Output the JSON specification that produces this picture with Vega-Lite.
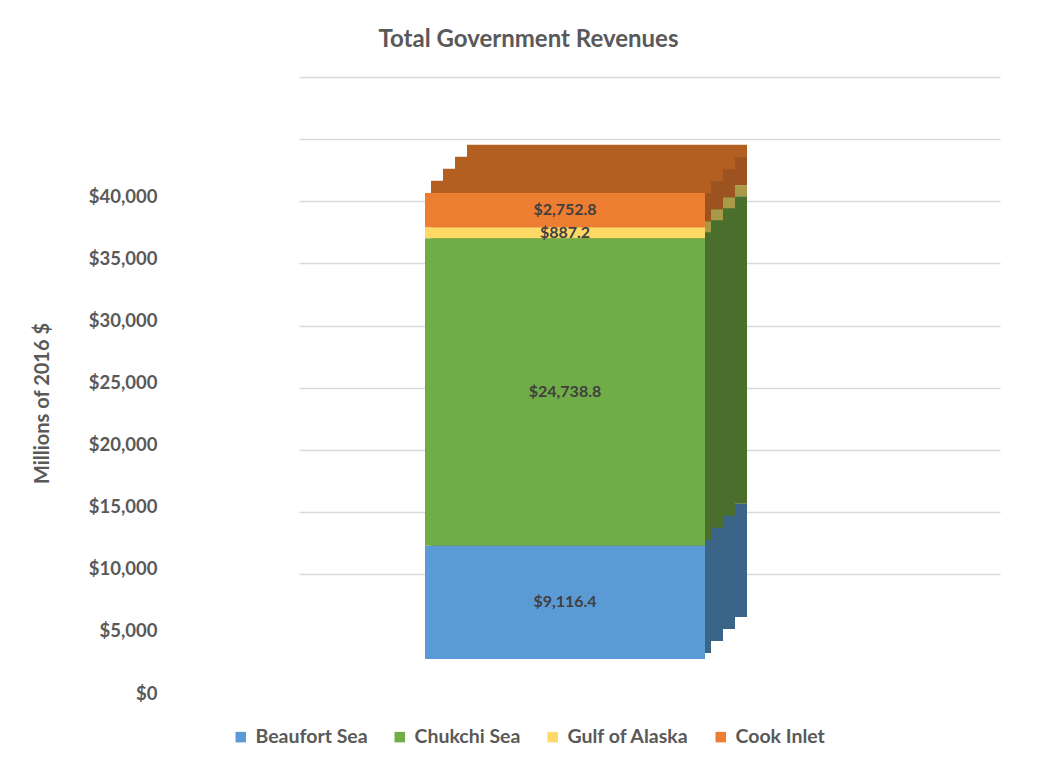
{
  "$schema": "https://vega.github.io/schema/vega-lite/v6.json",
  "width": 701,
  "height": 497,
  "autosize": {"type": "none"},
  "padding": {"left": 299, "top": 77, "right": 39, "bottom": 190},
  "background": "white",
  "config": {"view": {"stroke": null}},
  "title": {
    "text": "Total Government Revenues",
    "font": "Lato",
    "fontSize": 24,
    "fontWeight": "bold",
    "color": "#595959",
    "anchor": "middle",
    "dx": -121,
    "dy": 25,
    "offset": 31,
    "baseline": "alphabetic"
  },
  "data": {
    "values": [
      {"category": "Total", "series": "Beaufort Sea", "order": 1, "value": 9116.4},
      {"category": "Total", "series": "Chukchi Sea", "order": 2, "value": 24738.8},
      {"category": "Total", "series": "Gulf of Alaska", "order": 3, "value": 887.2},
      {"category": "Total", "series": "Cook Inlet", "order": 4, "value": 2752.8}
    ]
  },
  "transform": [
    {"stack": "value", "groupby": ["category"], "sort": [{"field": "order", "order": "ascending"}], "as": ["v0", "v1"]}
  ],
  "encoding": {
    "x": {"field": "category", "type": "nominal", "axis": null, "scale": {"paddingInner": 0, "paddingOuter": 0}}
  },
  "layer": [
    {
      "mark": {"type": "bar", "width": 280, "xOffset": -42.5, "yOffset": 43, "y2Offset": 43, "opacity": 1},
      "encoding": {
        "y": {
          "field": "v0",
          "type": "quantitative",
          "title": "Millions of 2016 $",
          "scale": {"domain": [0, 40000], "nice": false},
          "axis": {
            "values": [0, 5000, 10000, 15000, 20000, 25000, 30000, 35000, 40000],
            "format": "$,.0f",
            "labelFont": "Lato",
            "labelFontSize": 18.5,
            "labelFontWeight": "bold",
            "labelColor": "#595959",
            "labelOffset": 119,
            "labelPadding": 2,
            "offset": 140,
            "ticks": false,
            "domain": false,
            "gridColor": "#D9D9D9",
            "gridWidth": 1.5,
            "titleFont": "Lato",
            "titleFontSize": 20,
            "titleFontWeight": "bold",
            "titleColor": "#595959",
            "titleX": -117,
            "titleY": 326,
            "titleBaseline": "middle"
          }
        },
        "y2": {"field": "v1"},
        "color": {
          "field": "series",
          "type": "nominal",
          "scale": {
            "domain": ["Beaufort Sea", "Chukchi Sea", "Gulf of Alaska", "Cook Inlet"],
            "range": ["#3B6489", "#4A6F2C", "#A99A48", "#9C531F"]
          },
          "legend": null
        }
      }
    },
    {
      "mark": {"type": "bar", "width": 280, "xOffset": -54.5, "yOffset": 55, "y2Offset": 55, "opacity": 1},
      "encoding": {
        "y": {"field": "v0", "type": "quantitative", "title": "Millions of 2016 $"},
        "y2": {"field": "v1"},
        "color": {
          "field": "series",
          "type": "nominal",
          "scale": {
            "domain": ["Beaufort Sea", "Chukchi Sea", "Gulf of Alaska", "Cook Inlet"],
            "range": ["#3B6489", "#4A6F2C", "#A99A48", "#9C531F"]
          },
          "legend": null
        }
      }
    },
    {
      "mark": {"type": "bar", "width": 280, "xOffset": -66.5, "yOffset": 67, "y2Offset": 67, "opacity": 1},
      "encoding": {
        "y": {"field": "v0", "type": "quantitative", "title": "Millions of 2016 $"},
        "y2": {"field": "v1"},
        "color": {
          "field": "series",
          "type": "nominal",
          "scale": {
            "domain": ["Beaufort Sea", "Chukchi Sea", "Gulf of Alaska", "Cook Inlet"],
            "range": ["#3B6489", "#4A6F2C", "#A99A48", "#9C531F"]
          },
          "legend": null
        }
      }
    },
    {
      "mark": {"type": "bar", "width": 280, "xOffset": -78.5, "yOffset": 79, "y2Offset": 79, "opacity": 1},
      "encoding": {
        "y": {"field": "v0", "type": "quantitative", "title": "Millions of 2016 $"},
        "y2": {"field": "v1"},
        "color": {
          "field": "series",
          "type": "nominal",
          "scale": {
            "domain": ["Beaufort Sea", "Chukchi Sea", "Gulf of Alaska", "Cook Inlet"],
            "range": ["#3B6489", "#4A6F2C", "#A99A48", "#9C531F"]
          },
          "legend": null
        }
      }
    },
    {
      "transform": [{"filter": "datum.series == 'Cook Inlet'"}],
      "mark": {"type": "tick", "color": "#B45F22", "thickness": 12.5, "size": 280, "xOffset": -42.5, "yOffset": 43, "opacity": 1},
      "encoding": {"y": {"field": "v1", "type": "quantitative", "title": "Millions of 2016 $"}}
    },
    {
      "transform": [{"filter": "datum.series == 'Cook Inlet'"}],
      "mark": {"type": "tick", "color": "#B45F22", "thickness": 12.5, "size": 280, "xOffset": -54.5, "yOffset": 55, "opacity": 1},
      "encoding": {"y": {"field": "v1", "type": "quantitative", "title": "Millions of 2016 $"}}
    },
    {
      "transform": [{"filter": "datum.series == 'Cook Inlet'"}],
      "mark": {"type": "tick", "color": "#B45F22", "thickness": 12.5, "size": 280, "xOffset": -66.5, "yOffset": 67, "opacity": 1},
      "encoding": {"y": {"field": "v1", "type": "quantitative", "title": "Millions of 2016 $"}}
    },
    {
      "transform": [{"filter": "datum.series == 'Cook Inlet'"}],
      "mark": {"type": "tick", "color": "#B45F22", "thickness": 12.5, "size": 280, "xOffset": -78.5, "yOffset": 79, "opacity": 1},
      "encoding": {"y": {"field": "v1", "type": "quantitative", "title": "Millions of 2016 $"}}
    },
    {
      "mark": {"type": "bar", "width": 280, "xOffset": -84.5, "yOffset": 85, "y2Offset": 85, "opacity": 1},
      "encoding": {
        "y": {"field": "v0", "type": "quantitative", "title": "Millions of 2016 $"},
        "y2": {"field": "v1"},
        "color": {
          "field": "series",
          "type": "nominal",
          "scale": {
            "domain": ["Beaufort Sea", "Chukchi Sea", "Gulf of Alaska", "Cook Inlet"],
            "range": ["#5B9BD5", "#70AD47", "#FFD966", "#ED7D31"]
          },
          "legend": {
            "orient": "none",
            "legendX": -68,
            "legendY": 650,
            "direction": "horizontal",
            "title": null,
            "symbolType": "square",
            "symbolSize": 110,
            "symbolStrokeWidth": 0,
            "labelFont": "Lato",
            "labelFontSize": 19.5,
            "labelFontWeight": "bold",
            "labelColor": "#595959",
            "labelOffset": 5,
            "columnPadding": 22
          }
        }
      }
    },
    {
      "transform": [
        {"fold": ["v0", "v1"], "as": ["edge", "pos"]},
        {"aggregate": [{"op": "mean", "field": "pos", "as": "mid"}], "groupby": ["category", "series", "value"]}
      ],
      "mark": {"type": "text", "font": "Lato", "fontSize": 16, "fontWeight": "bold", "color": "#404040", "xOffset": -84.5, "yOffset": 85},
      "encoding": {
        "y": {"field": "mid", "type": "quantitative", "title": "Millions of 2016 $"},
        "text": {"field": "value", "type": "quantitative", "format": "$,.1f"}
      }
    }
  ],
  "resolve": {"scale": {"color": "independent"}}
}
